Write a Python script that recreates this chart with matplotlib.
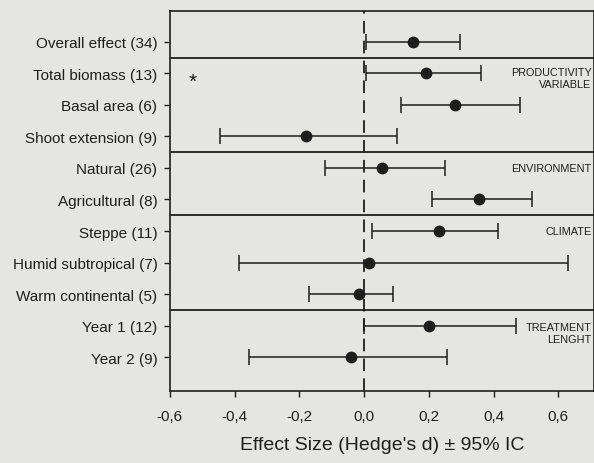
import numpy as np
import matplotlib
matplotlib.use("Agg")
from matplotlib import pyplot as plt

plt.rcParams['font.family'] = ['Liberation Sans', 'DejaVu Sans']

labels = ["Overall effect (34)", "Total biomass (13)", "Basal area (6)",
          "Shoot extension (9)", "Natural (26)", "Agricultural (8)",
          "Steppe (11)", "Humid subtropical (7)", "Warm continental (5)",
          "Year 1 (12)", "Year 2 (9)"]
effect = [0.15, 0.19, 0.28, -0.18, 0.055, 0.355, 0.23, 0.015, -0.015, 0.20, -0.04]
ci_low = [0.005, 0.005, 0.115, -0.445, -0.12, 0.21, 0.025, -0.385, -0.17, 0.0, -0.355]
ci_high = [0.295, 0.36, 0.48, 0.10, 0.25, 0.52, 0.415, 0.63, 0.09, 0.47, 0.255]

group_names = ["PRODUCTIVITY\nVARIABLE", "ENVIRONMENT", "CLIMATE", "TREATMENT\nLENGHT"]
group_rows = [1.15, 4, 6, 9.25]   # row index where each group label sits
separators = [0.5, 3.5, 5.5, 8.5]  # between rows

bg = '#e5e5e3'
ink = '#1e1e1e'

fig = plt.figure(figsize=(5.94, 4.64), dpi=100, facecolor=bg)
ax = fig.add_axes([0.286, 0.155, 0.714, 0.819], facecolor=bg)

n = len(labels)
y = n - np.arange(n)  # top row = 11
eff = np.array(effect)
err = [eff - np.array(ci_low), np.array(ci_high) - eff]

ax.errorbar(eff, y, xerr=err, fmt='o', color=ink, ecolor=ink, ms=7.5,
            elinewidth=1.1, capsize=6, capthick=1.1, zorder=3)

ax.axvline(0, color=ink, lw=1.3, ls=(0, (7, 4)), zorder=2)
for s in separators:
    ax.axhline(n - s, color=ink, lw=1.3)

for name, r in zip(group_names, group_rows):
    ax.text(0.702, n - r, name, ha='right', va='center', fontsize=7.8,
            color=ink, linespacing=1.25)

ax.text(-0.53, n - 1.25, '*', ha='center', va='center', fontsize=15, color=ink)

ax.set_xlim(-0.6, 0.71)
ax.set_ylim(-0.08, n + 0.98)
ax.set_yticks(y)
ax.set_yticklabels(labels, fontsize=11, color=ink)
ax.set_xticks([-0.6, -0.4, -0.2, 0.0, 0.2, 0.4, 0.6])
ax.set_xticklabels(['-0,6', '-0,4', '-0,2', '0,0', '0,2', '0,4', '0,6'],
                   fontsize=11, color=ink)
ax.tick_params(axis='y', direction='out', length=4, width=1, color=ink, pad=5)
ax.tick_params(axis='x', direction='out', length=4, width=1, color=ink, pad=9)
ax.set_xlabel("Effect Size (Hedge's d) \u00b1 95% IC", fontsize=14, color=ink,
              labelpad=9)
for sp in ax.spines.values():
    sp.set_color(ink)
    sp.set_linewidth(1.2)

fig.savefig("out.png", dpi=100, facecolor=bg)
